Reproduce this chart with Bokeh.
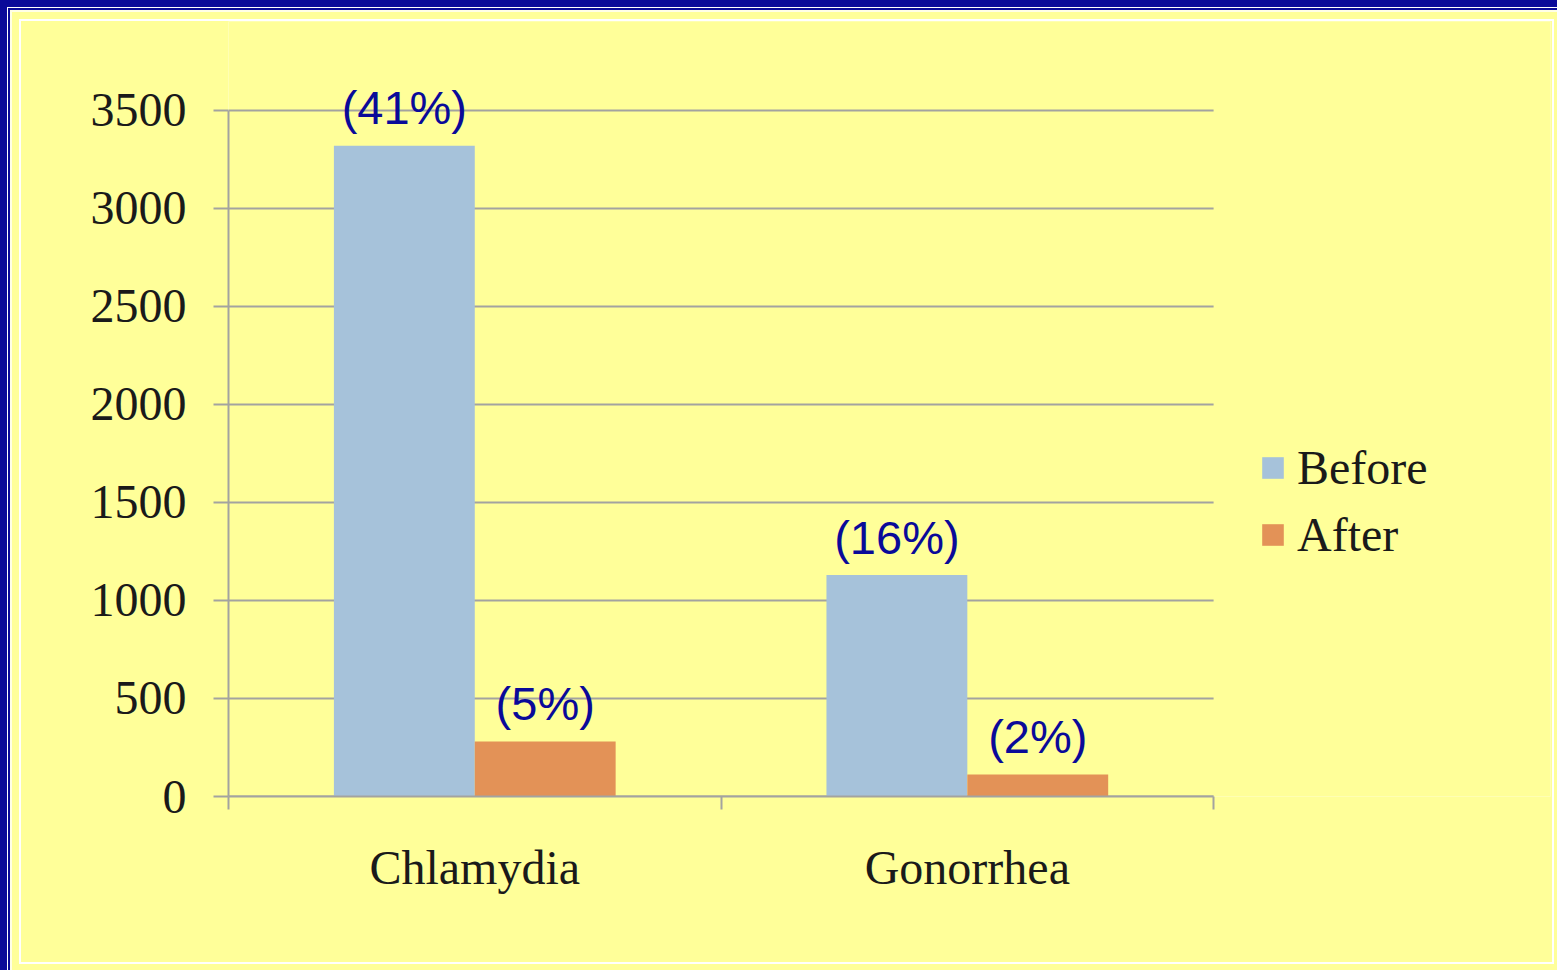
from bokeh.plotting import figure
from bokeh.models import (ColumnDataSource, Range1d, LinearAxis, FixedTicker, Legend, LegendItem,
                          InlineStyleSheet)
from bokeh.transform import dodge
from bokeh.core.properties import value
from bokeh.embed import file_html
from bokeh.resources import INLINE

categories = ["Chlamydia", "Gonorrhea"]
before = [3320, 1130]
after = [280, 112]
before_labels = ["(41%)", "(16%)"]
after_labels = ["(5%)", "(2%)"]
y_ticks = [0, 500, 1000, 1500, 2000, 2500, 3000, 3500]

BG = "#FFFF99"
GRID = "#A3A3A0"
BLUE = "#A6C2DA"
ORANGE = "#E39257"
LBL = "#0A0A99"
NAVY = "#0A0A99"
SERIF = "Liberation Serif"

W, H = 1557, 970
n = len(categories)
y_max = y_ticks[-1]
centers = [i + 0.5 for i in range(n)]
src = ColumnDataSource(dict(pos=centers, before=before, after=after,
                            bl=before_labels, al=after_labels))
grid_src = ColumnDataSource(dict(y=y_ticks, x0=[0] * len(y_ticks), x1=[n] * len(y_ticks)))

# frame extends past the category area (to host the legend); axes are bounded
p = figure(width=W, height=H, output_backend="svg", toolbar_location=None,
           x_range=Range1d(0, 2.684), y_range=Range1d(0, 3954),
           x_axis_location=None, y_axis_location=None)
p.background_fill_color = BG
p.border_fill_color = BG
p.outline_line_color = None
p.min_border_left = 228
p.min_border_right = 7
p.min_border_top = 21
p.min_border_bottom = H - 796
p.xgrid.visible = False
p.ygrid.visible = False

# y axis
yax = LinearAxis(ticker=FixedTicker(ticks=y_ticks), bounds=(0, y_max))
yax.axis_line_color = GRID
yax.axis_line_width = 2
yax.major_tick_line_color = GRID
yax.major_tick_line_width = 2
yax.major_tick_out = 15
yax.major_tick_in = 0
yax.minor_tick_line_color = None
yax.major_label_text_font = SERIF
yax.major_label_text_font_size = "48px"
yax.major_label_text_color = "#1a1a1a"
yax.major_label_standoff = 27
p.add_layout(yax, "left")

# x axis: ticks at category boundaries
bounds = list(range(n + 1))
xnum = LinearAxis(ticker=FixedTicker(ticks=bounds), bounds=(0, n))
xnum.axis_line_color = GRID
xnum.axis_line_width = 2
xnum.major_tick_line_color = GRID
xnum.major_tick_line_width = 2
xnum.major_tick_out = 13
xnum.major_tick_in = 0
xnum.minor_tick_line_color = None
xnum.major_label_overrides = {b: "" for b in bounds}
xnum.major_label_text_font_size = "1px"
xnum.major_label_standoff = 0
p.add_layout(xnum, "below")

# category labels
xcat = LinearAxis(ticker=FixedTicker(ticks=centers))
xcat.major_label_overrides = {c: name for c, name in zip(centers, categories)}
xcat.axis_line_color = None
xcat.major_tick_line_color = None
xcat.minor_tick_line_color = None
xcat.major_tick_out = 0
xcat.major_tick_in = 0
xcat.major_label_text_font = SERIF
xcat.major_label_text_font_size = "48px"
xcat.major_label_text_color = "#1a1a1a"
xcat.major_label_standoff = 31
p.add_layout(xcat, "below")

# horizontal gridlines limited to the category area
p.segment(x0="x0", x1="x1", y0="y", y1="y", source=grid_src, line_color=GRID, line_width=2)

w = 0.286
r1 = p.vbar(x=dodge("pos", -w / 2), top="before", width=w, source=src,
            fill_color=BLUE, line_color=None)
r2 = p.vbar(x=dodge("pos", w / 2), top="after", width=w, source=src,
            fill_color=ORANGE, line_color=None)

for off, col, lab in [(-w / 2, "before", "bl"), (w / 2, "after", "al")]:
    p.text(x=dodge("pos", off), y=col, text=lab, source=src,
           text_align="center", text_baseline="alphabetic", y_offset=-38,
           text_color=LBL, text_font=value("Liberation Sans"), text_font_size="47px")

legend = Legend(items=[LegendItem(label="Before", renderers=[r1]),
                       LegendItem(label="After", renderers=[r2])],
                location=(1031, 234))
legend.glyph_width = 27
legend.glyph_height = 27
legend.label_text_font = SERIF
legend.label_text_font_size = "48px"
legend.label_text_color = "#1a1a1a"
legend.spacing = 12
legend.margin = 0
legend.padding = 0
legend.label_standoff = 11
legend.background_fill_alpha = 0
legend.border_line_color = None
p.add_layout(legend, "center")

# slide frame decoration (pure CSS overlay, no layout impact)
p.stylesheets = [InlineStyleSheet(css=f"""
:host {{ position: relative; }}
:host::after {{
  content: ""; position: absolute; left: 0; top: 0; right: 0; bottom: 0;
  pointer-events: none; z-index: 50;
  box-shadow: inset 7px 7px 0 0 {NAVY}, inset 8px 8px 0 0 #ffffff,
              inset 10px 10px 0 0 {NAVY}, inset 12px 12px 0 0 #FFFFE6;
}}
:host::before {{
  content: ""; position: absolute; left: 19px; top: 19px; width: 1535px; height: 945px;
  box-sizing: border-box; border: 2px solid #ffffff;
  pointer-events: none; z-index: 49;
}}
""")]

open("out.html", "w").write(file_html(p, INLINE))
